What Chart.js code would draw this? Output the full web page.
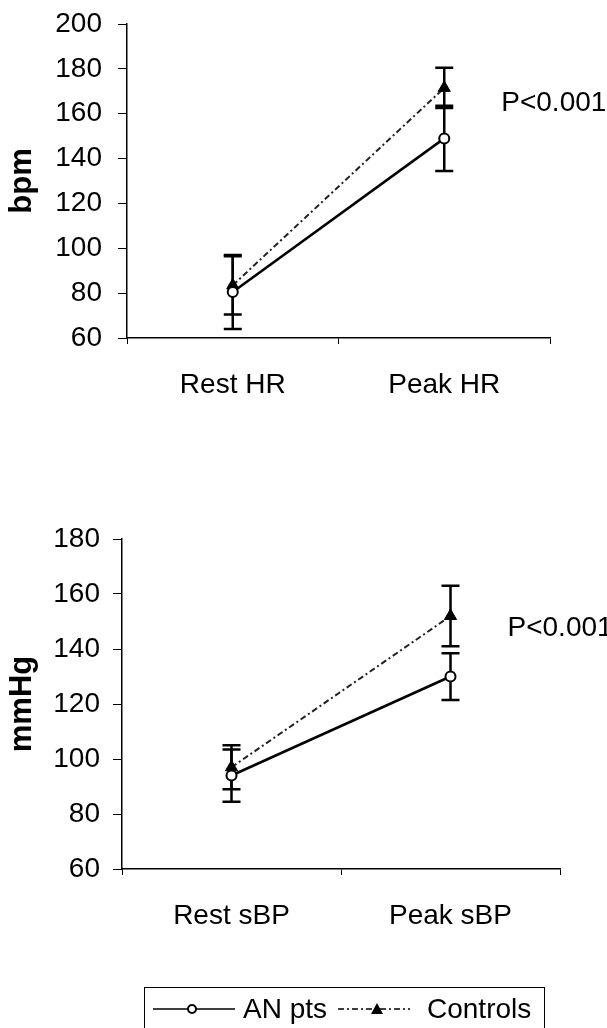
<!DOCTYPE html>
<html>
<head>
<meta charset="utf-8">
<script src="https://cdn.jsdelivr.net/npm/chart.js@4"></script>
<style>
  html, body { margin: 0; padding: 0; background: #fff; }
  body { width: 607px; height: 1028px; position: relative; overflow: hidden; }
  .box { position: absolute; left: 0; width: 607px; }
  #hrBox { top: 0; height: 470px; }
  #bpBox { top: 470px; height: 558px; }
</style>
</head>
<body>
<div class="box" id="hrBox"><canvas id="hrChart"></canvas></div>
<div class="box" id="bpBox"><canvas id="bpChart"></canvas></div>
<script>
// Heart rate panel
const hrLabels = ['Rest HR', 'Peak HR'];
const anHR = [80.5, 149];
const anHRErr = [16.5, 14.5];
const ctrlHR = [83.5, 171.5];
const ctrlHRErr = [13, 9];

// Systolic blood pressure panel
const bpLabels = ['Rest sBP', 'Peak sBP'];
const anBP = [94, 130];
const anBPErr = [9.5, 8.5];
const ctrlBP = [97, 152];
const ctrlBPErr = [8, 11];

const seriesNames = ['AN pts', 'Controls'];
const pText = 'P<0.001';

const FONT = "'Liberation Sans', Arial, sans-serif";
Chart.defaults.font.family = FONT;
Chart.defaults.color = '#000';
Chart.defaults.animation = false;

function makeDatasets(an, anErr, ctrl, ctrlErr) {
    return [{
        label: seriesNames[0],
        data: an,
        err: anErr,
        borderColor: '#000',
        borderWidth: 2.5,
        pointStyle: 'circle',
        pointRadius: 5,
        pointBorderWidth: 2,
        pointBackgroundColor: '#fff',
        pointBorderColor: '#000',
        order: 1
    }, {
        label: seriesNames[1],
        data: ctrl,
        err: ctrlErr,
        borderColor: '#222',
        borderWidth: 2,
        borderDash: [6, 3, 2, 3],
        pointStyle: 'triangle',
        pointRadius: 7,
        pointBorderWidth: 1,
        pointBackgroundColor: '#000',
        pointBorderColor: '#000',
        order: 2
    }];
}

// vertical error bars, drawn through the chart's scales
const errorBars = {
    id: 'errorBars',
    beforeDatasetsDraw(chart) {
        const { ctx, scales: { x, y } } = chart;
        ctx.save();
        ctx.strokeStyle = '#000';
        ctx.lineWidth = 2.5;
        chart.data.datasets.forEach(ds => {
            ds.data.forEach((v, i) => {
                const px = x.getPixelForValue(i);
                const top = y.getPixelForValue(v + ds.err[i]);
                const bot = y.getPixelForValue(v - ds.err[i]);
                ctx.beginPath();
                ctx.moveTo(px, top); ctx.lineTo(px, bot);
                ctx.moveTo(px - 9, top); ctx.lineTo(px + 9, top);
                ctx.moveTo(px - 9, bot); ctx.lineTo(px + 9, bot);
                ctx.stroke();
            });
        });
        ctx.restore();
    }
};

// "P<0.001" note beside the peak points
const pNote = {
    id: 'pNote',
    afterDraw(chart, args, opts) {
        const { ctx, scales: { x, y } } = chart;
        ctx.save();
        ctx.font = '28px ' + FONT;
        ctx.fillStyle = '#000';
        ctx.textBaseline = 'middle';
        ctx.fillText(pText, x.getPixelForValue(1) + 57, y.getPixelForValue(opts.at));
        ctx.restore();
    }
};

// shared legend box under the lower panel
const boxLegend = {
    id: 'boxLegend',
    afterDraw(chart, args, opts) {
        if (!opts.show) return;
        const ctx = chart.ctx;
        const ds = chart.data.datasets;
        const top = 517, ly = 539, base = 548;
        ctx.save();
        ctx.strokeStyle = '#000';
        ctx.lineWidth = 1;
        ctx.strokeRect(144.5, top + 0.5, 400, 80);

        // AN pts sample
        ctx.lineWidth = 1.5;
        ctx.beginPath();
        ctx.moveTo(153, ly); ctx.lineTo(235, ly);
        ctx.stroke();
        ctx.beginPath();
        ctx.arc(192, ly, 4, 0, Math.PI * 2);
        ctx.fillStyle = '#fff';
        ctx.fill();
        ctx.lineWidth = 2;
        ctx.stroke();

        // Controls sample
        ctx.lineWidth = 1.5;
        ctx.setLineDash(ds[1].borderDash);
        ctx.beginPath();
        ctx.moveTo(338, ly); ctx.lineTo(410, ly);
        ctx.stroke();
        ctx.setLineDash([]);
        ctx.fillStyle = '#000';
        ctx.beginPath();
        ctx.moveTo(377, ly - 6); ctx.lineTo(383, ly + 5); ctx.lineTo(371, ly + 5);
        ctx.closePath();
        ctx.fill();

        ctx.font = '28px ' + FONT;
        ctx.textBaseline = 'alphabetic';
        ctx.fillText(ds[0].label, 243, base);
        ctx.fillText(ds[1].label, 427, base);
        ctx.restore();
    }
};

function makeChart(id, labels, datasets, cfg) {
    return new Chart(document.getElementById(id), {
        type: 'line',
        data: { labels: labels, datasets: datasets },
        options: {
            responsive: true,
            maintainAspectRatio: false,
            layout: { padding: { top: cfg.padTop, right: cfg.padRight, left: 0, bottom: 0 } },
            plugins: {
                legend: { display: false },
                tooltip: { enabled: false },
                pNote: { at: cfg.pAt },
                boxLegend: { show: cfg.legend }
            },
            scales: {
                x: {
                    offset: true,
                    grid: {
                        offset: true,
                        drawOnChartArea: false,
                        color: '#000',
                        tickLength: 6,
                        tickWidth: 1
                    },
                    border: { color: '#000', width: 1.5 },
                    ticks: { font: { size: 28 }, padding: 24, maxRotation: 0 },
                    afterFit: s => { s.height = cfg.xHeight; s.paddingLeft = 0; s.paddingRight = 0; }
                },
                y: {
                    min: cfg.min,
                    max: cfg.max,
                    grid: {
                        drawOnChartArea: false,
                        color: '#000',
                        tickLength: 9,
                        tickWidth: 1
                    },
                    border: { color: '#000', width: 1.5 },
                    ticks: { stepSize: 20, font: { size: 28 }, padding: cfg.tickPad },
                    title: {
                        display: true,
                        text: cfg.title,
                        font: { size: 31, weight: 'bold' },
                        padding: { top: 4, bottom: 0 }
                    },
                    afterFit: s => { s.width = cfg.yWidth; s.paddingTop = 0; s.paddingBottom = 0; }
                }
            }
        },
        plugins: [errorBars, pNote, boxLegend]
    });
}

makeChart('hrChart', hrLabels, makeDatasets(anHR, anHRErr, ctrlHR, ctrlHRErr), {
    padTop: 24, padRight: 57, xHeight: 132, yWidth: 127,
    min: 60, max: 200, tickPad: 16, title: 'bpm', pAt: 164.5, legend: false
});

makeChart('bpChart', bpLabels, makeDatasets(anBP, anBPErr, ctrlBP, ctrlBPErr), {
    padTop: 69, padRight: 47, xHeight: 159, yWidth: 122,
    min: 60, max: 180, tickPad: 13, title: 'mmHg', pAt: 147.5, legend: true
});
</script>
</body>
</html>
